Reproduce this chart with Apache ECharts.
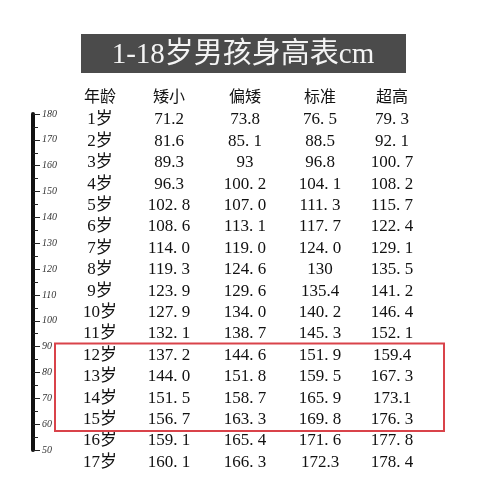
<!DOCTYPE html>
<html>
<head>
<meta charset="utf-8">
<script src="https://cdn.jsdelivr.net/npm/echarts@6/dist/echarts.min.js"></script>
<style>
  html, body { margin: 0; padding: 0; background: #fff; }
  #chart { width: 482px; height: 484px; }
</style>
</head>
<body>
<div id="chart"></div>
<script>
const title = '1-18岁男孩身高表cm';
const headers = ['年龄', '矮小', '偏矮', '标准', '超高'];
const ages = ['1岁', '2岁', '3岁', '4岁', '5岁', '6岁', '7岁', '8岁', '9岁', '10岁', '11岁', '12岁', '13岁', '14岁', '15岁', '16岁', '17岁'];
const short = ['71.2', '81.6', '89.3', '96.3', '102. 8', '108. 6', '114. 0', '119. 3', '123. 9', '127. 9', '132. 1', '137. 2', '144. 0', '151. 5', '156. 7', '159. 1', '160. 1'];
const below = ['73.8', '85. 1', '93', '100. 2', '107. 0', '113. 1', '119. 0', '124. 6', '129. 6', '134. 0', '138. 7', '144. 6', '151. 8', '158. 7', '163. 3', '165. 4', '166. 3'];
const standard = ['76. 5', '88.5', '96.8', '104. 1', '111. 3', '117. 7', '124. 0', '130', '135.4', '140. 2', '145. 3', '151. 9', '159. 5', '165. 9', '169. 8', '171. 6', '172.3'];
const tall = ['79. 3', '92. 1', '100. 7', '108. 2', '115. 7', '122. 4', '129. 1', '135. 5', '141. 2', '146. 4', '152. 1', '159.4', '167. 3', '173.1', '176. 3', '177. 8', '178. 4'];
const highlightRows = [11, 14]; // 12岁 - 15岁

const chart = echarts.init(document.getElementById('chart'));

const colX = [100, 169, 245, 320, 392];
const rowY0 = 120, rowH = 21.4;
const numFont = '"Liberation Serif", "DejaVu Serif", serif';
const cjkFont = '"Liberation Serif", "Noto Sans CJK SC", serif';

const elements = [];
elements.push({
  type: 'rect', shape: { x: 81, y: 34, width: 325, height: 39 },
  style: { fill: '#4b4b4b' }
});
elements.push({
  type: 'text', x: 243, y: 55,
  style: { text: title, fill: '#f4f4f4', font: '29px ' + cjkFont, align: 'center', verticalAlign: 'middle' }
});
headers.forEach((h, i) => {
  elements.push({
    type: 'text', x: colX[i], y: 96,
    style: { text: h, fill: '#111', font: '16px "Noto Sans CJK SC", sans-serif', align: 'center', verticalAlign: 'middle' }
  });
});
const cols = [ages, short, below, standard, tall];
ages.forEach((a, r) => {
  cols.forEach((col, c) => {
    elements.push({
      type: 'text', x: colX[c], y: rowY0 + r * rowH,
      style: { text: col[r], fill: '#111', font: '17px ' + (c === 0 ? cjkFont : numFont), align: 'center', verticalAlign: 'middle' }
    });
  });
});
elements.push({
  type: 'rect',
  shape: { x: 55, y: rowY0 + highlightRows[0] * rowH - 12, width: 389, height: (highlightRows[1] - highlightRows[0] + 1) * rowH + 2 },
  style: { fill: 'none', stroke: '#d9434a', lineWidth: 2 }
});

chart.setOption({
  backgroundColor: '#fff',
  animation: false,
  grid: { left: 33, top: 114, width: 1, height: 336 },
  xAxis: { type: 'value', show: false },
  yAxis: {
    type: 'value', min: 50, max: 180, interval: 10,
    axisLine: { show: true, lineStyle: { color: '#111', width: 4 } },
    axisTick: { show: true, inside: true, length: 7, lineStyle: { color: '#222', width: 1 } },
    minorTick: { show: true, splitNumber: 2, length: 5, lineStyle: { color: '#222' } },
    splitLine: { show: false },
    axisLabel: { inside: true, margin: 9, color: '#333', fontSize: 10, fontStyle: 'italic', fontFamily: numFont }
  },
  graphic: elements,
  series: []
});
</script>
</body>
</html>
